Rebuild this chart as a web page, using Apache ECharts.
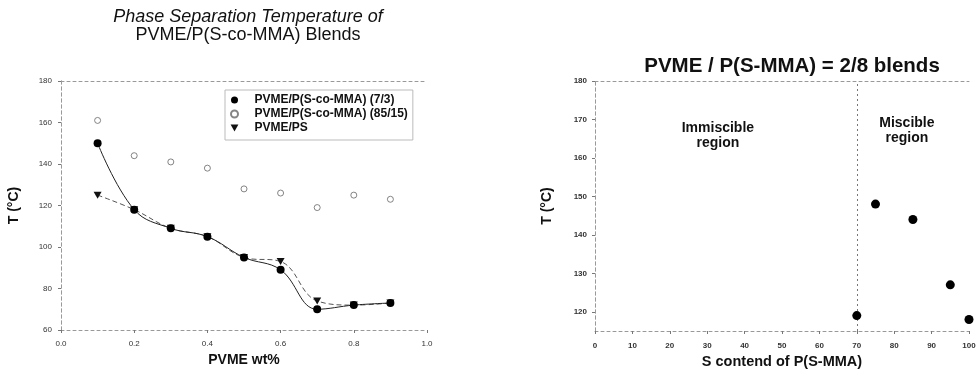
<!DOCTYPE html>
<html><head><meta charset="utf-8">
<script src="https://cdn.jsdelivr.net/npm/echarts@6/dist/echarts.min.js"></script>
<style>html,body{margin:0;padding:0;background:#fff}#c{width:980px;height:376px}</style>
</head><body><div id="c"></div>
<script>
// ---- data ----
const pvmeWt = [0.1, 0.2, 0.3, 0.4, 0.5, 0.6, 0.7, 0.8, 0.9];
const blend73 = [150, 118, 109, 105, 95, 89, 70, 72, 73];
const blend8515 = [161, 144, 141, 138, 128, 126, 119, 125, 123];
const blendPS = [125, 118, 109, 105, 95, 93, 74, 72, 73];
const seriesNames = ['PVME/P(S-co-MMA) (7/3)', 'PVME/P(S-co-MMA) (85/15)', 'PVME/PS'];
const sContent = [70, 75, 85, 95, 100];
const tRight = [119, 148, 144, 127, 118];
const rightYTicks = [120, 130, 140, 150, 160, 170, 180];
const regionBoundary = 70;
const regionLabels = ['Immiscible\nregion', 'Miscible\nregion'];

const FONT = 'Liberation Sans, Arial, sans-serif';
const pairs = (xs, ys) => xs.map((x, i) => [x, ys[i]]);
const tri = 'path://M0,0 L10,0 L5,9 Z';
const borderLine = { show: true, lineStyle: { color: '#999', type: [3, 3], width: 1 } };
const tickLabel = { fontFamily: FONT, fontSize: 8, color: '#333' };

const chart = echarts.init(document.getElementById('c'));
chart.setOption({
  animation: false,
  backgroundColor: '#fff',
  title: [
    { text: '{i|Phase Separation Temperature of}\n{n|PVME/P(S-co-MMA) Blends}', left: 243, top: 2, textAlign: 'center',
      textStyle: { fontFamily: FONT, fontWeight: 'normal', color: '#111', lineHeight: 19,
        rich: { i: { fontFamily: FONT, fontSize: 18, fontStyle: 'italic', color: '#111', lineHeight: 19 },
                n: { fontFamily: FONT, fontSize: 18, color: '#111', lineHeight: 19 } } } },
    { text: 'PVME / P(S-MMA) = 2/8 blends', left: 787, top: 51, textAlign: 'center',
      textStyle: { fontFamily: FONT, fontSize: 20.5, fontWeight: 'bold', color: '#111' } }
  ],
  legend: {
    left: 225, top: 90, orient: 'vertical', itemGap: 2, itemWidth: 30, itemHeight: 7,
    padding: [4, 5, 6, 5], borderColor: '#bbb', borderWidth: 1,
    textStyle: { fontFamily: FONT, fontSize: 12, fontWeight: 'bold', color: '#111' },
    data: [
      { name: seriesNames[0], icon: 'circle' },
      { name: seriesNames[1], icon: 'circle' },
      { name: seriesNames[2], icon: tri }
    ]
  },
  grid: [
    { left: 61, right: 553, top: 81, bottom: 46 },
    { left: 595, right: 11, top: 81, bottom: 45 }
  ],
  xAxis: [
    { type: 'value', gridIndex: 0, min: 0, max: 1, interval: 0.2,
      name: 'PVME wt%', nameLocation: 'middle', nameGap: 23,
      nameTextStyle: { fontFamily: FONT, fontSize: 14, fontWeight: 'bold', color: '#111' },
      axisLine: borderLine, axisTick: { show: true, length: 3, lineStyle: { color: '#777' } },
      axisLabel: Object.assign({ formatter: v => v.toFixed(1), margin: 10 }, tickLabel),
      splitLine: { show: false } },
    { type: 'value', gridIndex: 0, position: 'top', min: 0, max: 1,
      axisLine: borderLine, axisTick: { show: false }, axisLabel: { show: false }, splitLine: { show: false } },
    { type: 'value', gridIndex: 1, min: 0, max: 100, interval: 10,
      name: 'S contend of P(S-MMA)', nameLocation: 'middle', nameGap: 22,
      nameTextStyle: { fontFamily: FONT, fontSize: 14.5, fontWeight: 'bold', color: '#111' },
      axisLine: borderLine, axisTick: { show: true, length: 3, lineStyle: { color: '#777' } },
      axisLabel: Object.assign({ margin: 11, fontWeight: 'bold' }, tickLabel),
      splitLine: { show: false } },
    { type: 'value', gridIndex: 1, position: 'top', min: 0, max: 100,
      axisLine: borderLine, axisTick: { show: false }, axisLabel: { show: false }, splitLine: { show: false } }
  ],
  yAxis: [
    { type: 'value', gridIndex: 0, min: 60, max: 180, interval: 20,
      name: 'T (°C)', nameLocation: 'middle', nameGap: 40, nameRotate: 90,
      nameTextStyle: { fontFamily: FONT, fontSize: 14, fontWeight: 'bold', color: '#111' },
      axisLine: borderLine, axisTick: { show: true, length: 3, lineStyle: { color: '#777' } },
      axisLabel: Object.assign({ margin: 9 }, tickLabel), splitLine: { show: false } },
    { type: 'value', gridIndex: 0, position: 'right', min: 60, max: 180,
      axisLine: borderLine, axisTick: { show: false }, axisLabel: { show: false }, splitLine: { show: false } },
    { type: 'value', gridIndex: 1, min: 115, max: 180,
      name: 'T (°C)', nameLocation: 'middle', nameGap: 41, nameRotate: 90,
      nameTextStyle: { fontFamily: FONT, fontSize: 14, fontWeight: 'bold', color: '#111' },
      axisLine: borderLine,
      axisTick: { show: true, length: 3, customValues: rightYTicks, lineStyle: { color: '#777' } },
      axisLabel: Object.assign({ margin: 8, customValues: rightYTicks, fontWeight: 'bold' }, tickLabel),
      splitLine: { show: false } },
    { type: 'value', gridIndex: 1, position: 'right', min: 115, max: 180,
      axisLine: borderLine, axisTick: { show: false }, axisLabel: { show: false }, splitLine: { show: false } }
  ],
  series: [
    { name: seriesNames[0], type: 'line', xAxisIndex: 0, yAxisIndex: 0, data: pairs(pvmeWt, blend73),
      smooth: 0.4, symbol: 'circle', symbolSize: 8,
      itemStyle: { color: '#000' }, lineStyle: { color: '#222', width: 1 }, z: 3 },
    { name: seriesNames[1], type: 'scatter', xAxisIndex: 0, yAxisIndex: 0, data: pairs(pvmeWt, blend8515),
      symbol: 'circle', symbolSize: 6,
      itemStyle: { color: '#fff', borderColor: '#666', borderWidth: 1 } },
    { name: seriesNames[2], type: 'line', xAxisIndex: 0, yAxisIndex: 0, data: pairs(pvmeWt, blendPS),
      smooth: 0.4, symbol: tri, symbolSize: [8, 7],
      itemStyle: { color: '#111' }, lineStyle: { color: '#555', width: 1, type: [5, 3] }, z: 2 },
    { name: 'regions', type: 'scatter', xAxisIndex: 2, yAxisIndex: 2, data: [], z: 1,
      markLine: { silent: true, symbol: 'none', label: { show: false },
        lineStyle: { color: '#777', type: [2, 3], width: 1 },
        data: [{ xAxis: regionBoundary }] },
      markArea: { silent: true, itemStyle: { color: 'rgba(0,0,0,0)' },
        label: { show: true, position: 'insideTop', fontFamily: FONT, fontSize: 14, fontWeight: 'bold',
                 color: '#111', lineHeight: 15, align: 'center' },
        data: [
          [{ xAxis: 0, yAxis: 180, label: { formatter: regionLabels[0], distance: 40, offset: [-8, 0] } },
           { xAxis: regionBoundary, yAxis: 115 }],
          [{ xAxis: regionBoundary, yAxis: 180, label: { formatter: regionLabels[1], distance: 35, offset: [-6, 0] } },
           { xAxis: 100, yAxis: 115 }]
        ] } },
    { name: 'right', type: 'scatter', xAxisIndex: 2, yAxisIndex: 2, data: pairs(sContent, tRight), z: 5,
      symbol: 'circle', symbolSize: 9, itemStyle: { color: '#000', opacity: 1 } }
  ]
});
</script></body></html>
